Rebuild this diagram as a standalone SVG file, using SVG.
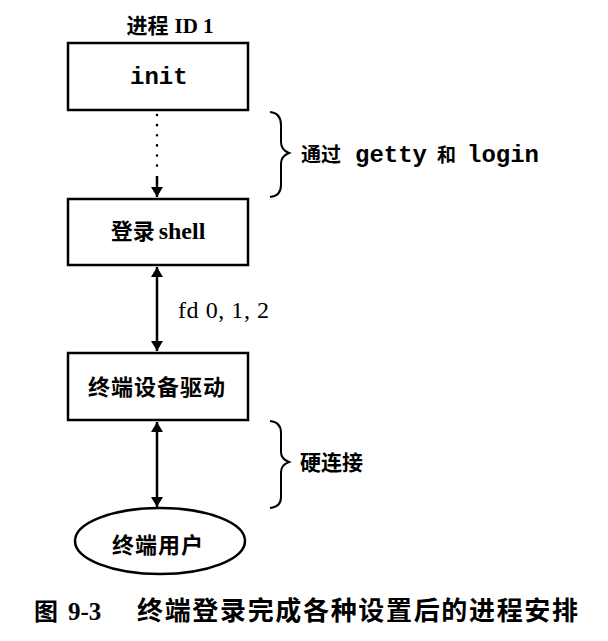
<svg xmlns="http://www.w3.org/2000/svg" width="608" height="641" viewBox="0 0 608 641">
<style>
.box{fill:#fff;stroke:#000;stroke-width:2.5}
.cjk{font-family:"Noto Sans CJK SC",sans-serif;font-weight:bold;fill:#000}
.ser{font-family:"Liberation Serif","Noto Sans CJK SC",serif;fill:#000}
.mono{font-family:"Liberation Mono",monospace;font-weight:bold;fill:#000}
.line{stroke:#000;stroke-width:2.5;fill:none}
.brace{stroke:#000;stroke-width:2;fill:none}
</style>
<defs>
<marker id="ah" viewBox="0 0 10 16" refX="10" refY="8" markerWidth="10" markerHeight="16" markerUnits="userSpaceOnUse" orient="auto-start-reverse">
<path d="M0,2 L10,8 L0,14 Z" fill="#000"/>
</marker>
</defs>
<rect width="608" height="641" fill="#fff"/>
<text x="170" y="33" text-anchor="middle" font-size="21"><tspan class="cjk">进程</tspan><tspan class="ser" font-weight="bold" dx="6">ID 1</tspan></text>
<g id="init">
<rect class="box" x="68" y="43" width="180" height="67"/>
<text class="mono" x="130" y="84" font-size="24">init</text>
</g>
<g id="shell">
<rect class="box" x="68" y="199" width="180" height="66"/>
<text x="158" y="239" font-size="22" text-anchor="middle"><tspan class="cjk">登录</tspan><tspan class="ser" font-weight="bold" dx="4" font-size="24">shell</tspan></text>
</g>
<g id="driver">
<rect class="box" x="68" y="353" width="180" height="67"/>
<text class="cjk" x="157" y="395" font-size="22" text-anchor="middle" letter-spacing="1">终端设备驱动</text>
</g>
<g id="user">
<ellipse class="box" cx="160" cy="541" rx="85" ry="33"/>
<text class="cjk" x="158" y="553" font-size="22" text-anchor="middle" letter-spacing="1">终端用户</text>
</g>
<g id="connectors">
<line class="line" x1="157" y1="115" x2="157" y2="168" stroke-dasharray="0.1,10" stroke-width="4" stroke-linecap="round"/>
<line class="line" x1="157" y1="176" x2="157" y2="197" marker-end="url(#ah)"/>
<line class="line" x1="157" y1="267" x2="157" y2="351" marker-start="url(#ah)" marker-end="url(#ah)"/>
<line class="line" x1="157" y1="422" x2="157" y2="507" marker-start="url(#ah)" marker-end="url(#ah)"/>
<path class="brace" d="M270,112 Q281,113 281,125 L281,142 Q281,150 289,153 Q281,156 281,164 L281,185 Q281,196 270,197"/>
<path class="brace" d="M270,421 Q281,422 281,433 L281,452 Q281,459 289,462 Q281,465 281,472 L281,497 Q281,507 270,508"/>
</g>
<text class="cjk" x="301" y="162" font-size="20">通过</text>
<text class="mono" x="355" y="162" font-size="24">getty</text>
<text class="cjk" x="437" y="162" font-size="19">和</text>
<text class="mono" x="467" y="162" font-size="24">login</text>
<text class="ser" x="178" y="318" font-size="24" textLength="91" lengthAdjust="spacing">fd 0, 1, 2</text>
<text class="cjk" x="300" y="470" font-size="21">硬连接</text>
<text class="cjk" x="34" y="620" font-size="24">图</text>
<text class="ser" x="68" y="620" font-size="25" font-weight="bold">9-3</text>
<text class="cjk" x="137" y="620" font-size="26" textLength="441" lengthAdjust="spacing">终端登录完成各种设置后的进程安排</text>
</svg>
